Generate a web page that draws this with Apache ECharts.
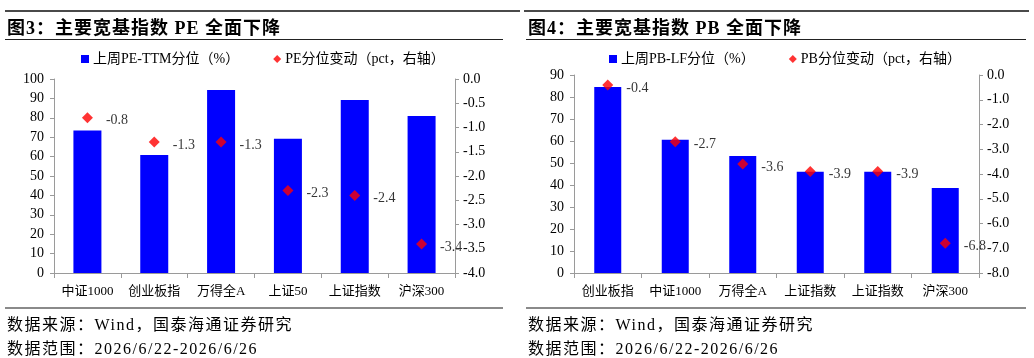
<!DOCTYPE html>
<html>
<head>
<meta charset="utf-8">
<script src="https://cdn.jsdelivr.net/npm/echarts@6/dist/echarts.min.js"></script>
<style>
  html, body { margin: 0; padding: 0; background: #fff; }
  body { width: 1034px; height: 358px; position: relative; overflow: hidden; }
  #chart { position: absolute; left: 0; top: 0; width: 1034px; height: 358px; }
  .line { position: absolute; }
  .txt {
    position: absolute; white-space: nowrap; color: #000;
    font-family: "Liberation Serif", "Noto Sans CJK SC", serif;
  }
  .title { font-size: 18px; font-weight: bold; letter-spacing: 1px; top: 13px; }
  .src { font-size: 16px; letter-spacing: 1.5px; }
</style>
</head>
<body>
<div id="chart"></div>

<div class="line" style="left:5px;width:515px;top:10px;height:2px;background:#4a4a4a"></div>
<div class="line" style="left:5px;width:498px;top:39px;height:1px;background:#222"></div>
<div class="line" style="left:5px;width:498px;top:307px;height:2px;background:#8a8a8a"></div>
<div class="txt title" style="left:7px">图3：主要宽基指数 PE 全面下降</div>
<div class="txt src" style="left:7px;top:311px">数据来源：Wind，国泰海通证券研究</div>
<div class="txt src" style="left:7px;top:335px">数据范围：2026/6/22-2026/6/26</div>

<div class="line" style="left:524px;width:505px;top:10px;height:2px;background:#4a4a4a"></div>
<div class="line" style="left:526px;width:500px;top:39px;height:1px;background:#222"></div>
<div class="line" style="left:526px;width:500px;top:307px;height:2px;background:#8a8a8a"></div>
<div class="txt title" style="left:528px">图4：主要宽基指数 PB 全面下降</div>
<div class="txt src" style="left:528px;top:311px">数据来源：Wind，国泰海通证券研究</div>
<div class="txt src" style="left:528px;top:335px">数据范围：2026/6/22-2026/6/26</div>

<script>
// 图3 PE
const peCategories = ['中证1000', '创业板指', '万得全A', '上证50', '上证指数', '沪深300'];
const pePercentile = [73.4, 60.8, 94.3, 69.2, 89.2, 80.9];
const peChange = [-0.8, -1.3, -1.3, -2.3, -2.4, -3.4];

// 图4 PB
const pbCategories = ['创业板指', '中证1000', '万得全A', '上证指数', '上证指数', '沪深300'];
const pbPercentile = [84.6, 60.6, 53.2, 46.0, 46.0, 38.6];
const pbChange = [-0.4, -2.7, -3.6, -3.9, -3.9, -6.8];

const FONT = '"Liberation Serif", "Noto Sans CJK SC", serif';
const axisGray = '#9a9a9a';

const chart = echarts.init(document.getElementById('chart'));

function xAxisFor(gridIndex, data) {
  return {
    type: 'category',
    gridIndex: gridIndex,
    data: data,
    axisLine: { lineStyle: { color: axisGray } },
    axisTick: { show: true, length: 5, lineStyle: { color: axisGray } },
    axisLabel: { color: '#000', fontSize: 13, fontFamily: FONT, margin: 12, interval: 0 },
  };
}

function yAxisFor(gridIndex, position, min, max, interval, digits) {
  return {
    type: 'value',
    gridIndex: gridIndex,
    position: position,
    min: min,
    max: max,
    interval: interval,
    splitLine: { show: false },
    axisLine: { show: true, lineStyle: { color: axisGray } },
    axisTick: { show: true, length: 4, lineStyle: { color: axisGray } },
    axisLabel: {
      color: '#000',
      fontSize: 14,
      fontFamily: FONT,
      margin: position === 'left' ? 10 : 8,
      formatter: (v) => v.toFixed(digits),
    },
  };
}

function legendFor(left, names) {
  return {
    left: left,
    top: 47,
    itemGap: 34,
    itemWidth: 8,
    itemHeight: 8,
    textStyle: { color: '#000', fontSize: 14, fontFamily: FONT, padding: [0, 0, 0, -1] },
    data: [
      { name: names[0], icon: 'rect' },
      { name: names[1], icon: 'diamond', itemStyle: { color: '#ff0000' } },
    ],
  };
}

const changeLabel = {
  show: true,
  position: 'right',
  distance: 13,
  offset: [0, 3],
  color: '#000',
  fontSize: 14,
  fontFamily: FONT,
  formatter: (p) => p.value.toFixed(1),
};

const option = {
  animation: false,
  legend: [
    legendFor(76, ['上周PE-TTM分位（%）', 'PE分位变动（pct，右轴）']),
    legendFor(604, ['上周PB-LF分位（%）', 'PB分位变动（pct，右轴）']),
  ],
  grid: [
    { left: 54, right: 579, top: 79, bottom: 85 },
    { left: 574, right: 55, top: 75, bottom: 85 },
  ],
  xAxis: [
    xAxisFor(0, peCategories),
    xAxisFor(1, pbCategories),
  ],
  yAxis: [
    yAxisFor(0, 'left', 0, 100, 10, 0),
    yAxisFor(0, 'right', -4, 0, 0.5, 1),
    yAxisFor(1, 'left', 0, 90, 10, 0),
    yAxisFor(1, 'right', -8, 0, 1, 1),
  ],
  series: [
    {
      name: '上周PE-TTM分位（%）',
      type: 'bar',
      xAxisIndex: 0,
      yAxisIndex: 0,
      barWidth: 28,
      itemStyle: { color: '#0000ff' },
      data: pePercentile,
    },
    {
      name: 'PE分位变动（pct，右轴）',
      type: 'scatter',
      xAxisIndex: 0,
      yAxisIndex: 1,
      symbol: 'diamond',
      symbolSize: 11,
      itemStyle: { color: '#ff0000' },
      label: changeLabel,
      z: 5,
      data: peChange,
    },
    {
      name: '上周PB-LF分位（%）',
      type: 'bar',
      xAxisIndex: 1,
      yAxisIndex: 2,
      barWidth: 27,
      itemStyle: { color: '#0000ff' },
      data: pbPercentile,
    },
    {
      name: 'PB分位变动（pct，右轴）',
      type: 'scatter',
      xAxisIndex: 1,
      yAxisIndex: 3,
      symbol: 'diamond',
      symbolSize: 11,
      itemStyle: { color: '#ff0000' },
      label: changeLabel,
      z: 5,
      data: pbChange,
    },
  ],
};

chart.setOption(option);
</script>
</body>
</html>
